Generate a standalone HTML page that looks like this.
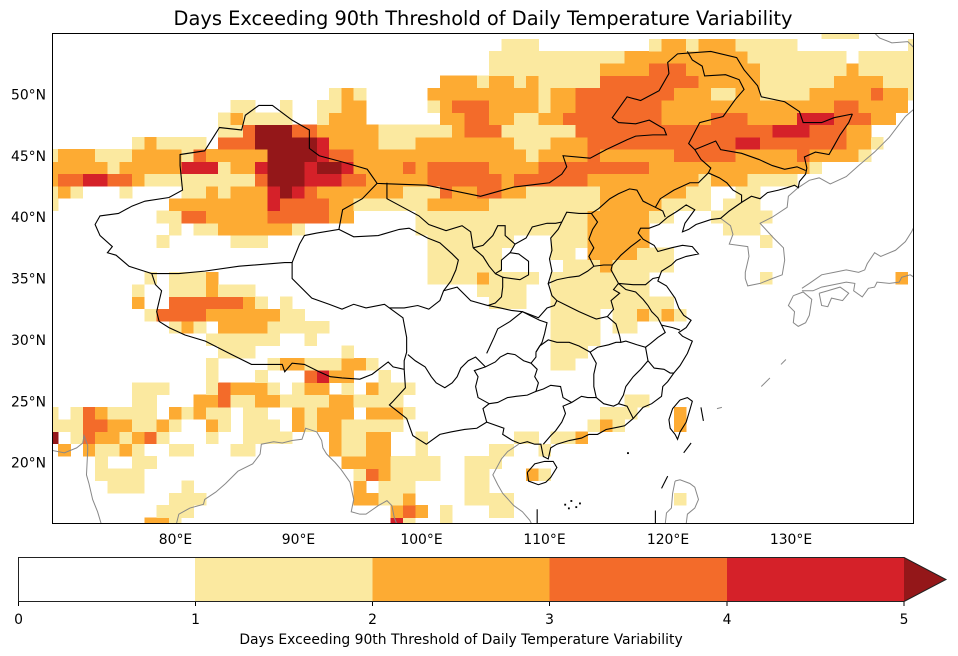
<!DOCTYPE html>
<html><head><meta charset="utf-8"><style>
html,body{margin:0;padding:0;background:#fff;}
svg{display:block;font-family:"DejaVu Sans","Liberation Sans",sans-serif;}
</style></head><body>
<svg id="s" width="958" height="656" viewBox="0 0 958 656" xmlns="http://www.w3.org/2000/svg">
<rect width="958" height="656" fill="#fff"/>
<text x="483" y="25" font-size="19.4" text-anchor="middle" fill="#000">Days Exceeding 90th Threshold of Daily Temperature Variability</text>
<defs><clipPath id="mc"><rect x="70" y="15" width="70" height="40"/></clipPath></defs>
<g transform="matrix(12.314 0 0 -12.275 -809.98 708.125)" clip-path="url(#mc)">
<g id="cells" shape-rendering="crispEdges"></g>
<g fill="none" stroke="#888" stroke-width="1" vector-effect="non-scaling-stroke">
<polyline vector-effect="non-scaling-stroke" points="69.5,22.4 70.0,22.4 69.9,21.9 70.0,21.0 71.0,20.8 72.0,21.2 72.5,21.6 72.6,22.2 72.9,21.4 72.9,21.0 72.8,19.0 73.0,18.3 73.3,17.0 73.7,16.0 74.0,15.0"/>
<polyline vector-effect="non-scaling-stroke" points="80.1,15.0 80.3,15.8 81.2,16.3 82.3,16.6 82.4,17.0 83.3,17.6 84.1,18.3 85.1,19.3 86.3,19.9 86.9,20.7 87.0,21.5 88.0,21.7 88.7,21.6 89.5,21.8 90.3,21.9 90.6,22.8 91.5,22.5 91.9,21.8 92.0,21.2 92.3,20.7 93.0,20.0 93.5,19.4 94.2,18.4 94.5,17.0 94.3,16.0 95.0,15.8 95.5,15.8 96.5,16.5 97.2,16.9 97.6,16.5 97.8,15.5 98.0,15.0"/>
<polyline vector-effect="non-scaling-stroke" points="107.9,21.5 107.0,20.9 106.5,20.3 105.8,19.0 106.2,18.2 106.6,17.5 107.5,16.5 108.2,16.0 108.8,15.3 109.0,14.9"/>
<polyline vector-effect="non-scaling-stroke" points="124.3,39.9 125.1,39.3 125.3,38.6 125.0,37.8 126.5,37.6 126.6,36.8 126.3,35.5 126.3,35.0 126.5,34.4 127.5,34.6 128.5,35.0 129.3,35.3 129.5,36.5 129.4,37.5 128.6,38.3 127.5,39.5 128.5,40.0 129.7,40.8 129.8,41.7 130.6,42.4"/>
<polyline vector-effect="non-scaling-stroke" points="130.6,42.4 131.5,43.0 132.3,43.2 133.2,42.7 134.5,43.3 135.5,44.2 136.8,45.3 138.0,46.5 138.6,47.3 139.3,48.2 140.0,48.8"/>
<polyline vector-effect="non-scaling-stroke" points="136.8,55.0 137.2,54.6 138.2,54.2 139.5,54.3 140.0,53.8"/>
<polyline vector-effect="non-scaling-stroke" points="130.2,33.6 131.0,33.9 131.7,33.3 131.5,32.0 131.2,31.4 130.6,31.1 130.2,31.4 130.3,32.3 129.8,32.8 130.2,33.6"/>
<polyline vector-effect="non-scaling-stroke" points="130.9,34.0 131.8,34.0 132.5,34.3 133.5,34.5 134.5,34.7 135.2,34.6 135.1,34.0 135.8,33.5 136.3,34.2 136.8,34.3 137.0,34.7 138.0,34.6 138.8,34.7 139.0,35.1 139.7,35.3 140.0,35.1"/>
<polyline vector-effect="non-scaling-stroke" points="130.9,34.2 131.5,34.6 132.5,35.3 133.5,35.5 134.5,35.7 135.5,35.5 136.0,35.7 136.2,36.2 136.8,37.1 137.3,36.8 138.5,37.3 139.3,38.0 139.8,38.8 140.0,39.2"/>
<polyline vector-effect="non-scaling-stroke" points="132.3,33.8 132.5,32.8 133.0,32.7 133.3,33.4 134.2,33.2 134.7,33.8 134.0,34.3 133.0,34.0 132.3,33.8"/>
<polyline vector-effect="non-scaling-stroke" points="127.6,26.2 128.0,26.6 128.3,26.9"/>
<polyline vector-effect="non-scaling-stroke" points="129.2,28.0 129.6,28.4"/>
<polyline vector-effect="non-scaling-stroke" points="124.0,24.4 124.4,24.5"/>
<polyline vector-effect="non-scaling-stroke" points="120.6,18.5 121.0,18.6 121.8,18.3 122.2,18.0 122.5,17.0 122.2,16.3 121.6,15.8 121.5,15.0"/>
<polyline vector-effect="non-scaling-stroke" points="120.6,18.5 120.4,17.5 120.3,16.3 119.9,15.9 119.8,15.0"/>
</g>
<g fill="none" stroke="#000" stroke-width="1.1">
<polyline vector-effect="non-scaling-stroke" points="135.0,48.4 133.5,48.1 132.5,47.7 131.0,47.7 130.7,48.6 129.5,49.4 127.6,49.8 127.3,50.7 126.2,52.0 125.6,53.0 123.5,53.5 120.8,53.3 120.0,52.6 120.1,51.7 119.3,50.3 117.8,49.5 116.7,49.8 115.5,48.1 116.0,47.7 117.4,47.6 118.5,47.9 119.7,47.2 119.9,46.7 118.8,46.7 117.4,46.6 116.7,46.3 115.0,45.5 113.7,44.8 111.5,45.0 111.8,44.1 111.4,43.5 110.4,42.8 109.6,42.7 107.5,42.45 104.8,41.7 100.4,42.6 96.4,42.75 95.6,43.9 93.55,44.5 91.7,45.0 90.9,45.6 90.9,47.1 89.5,47.9 87.9,49.1 86.8,49.1 85.7,48.3 85.4,47.1 83.6,47.3 82.4,45.4 80.4,45.1 80.4,44.2 80.6,42.2 79.5,41.6 77.55,41.3 76.5,40.9 75.4,40.3 73.9,40.1 73.5,39.4 73.9,38.5 74.9,37.6 74.5,37.1 75.2,36.9 76.25,36.0 77.8,35.5 78.1,35.4 78.4,34.5 78.9,34.0 78.5,32.3 78.7,31.5 79.5,31.0 80.8,30.4 82.45,29.9 84.6,28.8 86.2,28.0 88.7,28.0 88.9,27.4 89.5,28.1 90.5,28.0 91.7,27.4 92.6,27.0 93.55,26.9 95.0,26.8 96.0,27.2 97.3,28.2 97.7,27.8 98.6,27.6 98.7,26.1 97.7,25.0 97.4,24.7 98.8,23.6 99.3,22.2 100.4,21.5 101.5,22.3 102.4,22.5 103.5,22.7 104.5,22.8 105.3,23.3 106.7,22.8 106.6,22.3 107.4,21.8 108.0,21.55 108.6,21.7 109.2,21.5 109.7,21.5 109.9,20.5 110.3,20.3 110.5,21.2 111.0,21.5 112.0,21.8 113.0,22.0 113.6,22.3 114.3,22.3 115.0,22.7 116.0,22.9 116.5,23.0 117.2,23.6 118.0,24.5 118.7,24.8 119.5,25.4 119.6,26.2 120.0,26.6 120.5,27.3 121.0,27.9 121.6,28.9 122.0,29.9 121.2,30.3 120.9,30.6 121.5,31.0 121.9,31.6 121.3,32.0 120.9,32.6 120.6,33.4 119.9,34.4 119.2,34.8 119.5,35.6 120.3,36.1 120.7,36.5 121.5,36.8 122.5,37.0 122.0,37.6 121.2,37.7 120.3,37.5 119.2,37.2 118.9,37.7 118.0,38.2 117.6,38.7 117.8,39.1 118.5,39.1 119.3,39.4 120.0,40.0 120.8,40.5 121.5,41.0 122.2,40.6 121.4,39.5 121.2,38.8 121.7,39.0 122.3,39.4 123.5,39.8 124.3,39.9 125.0,40.5 126.0,41.2 126.8,41.7 127.5,41.5 128.1,42.0 129.0,42.2 129.7,42.4 130.3,42.6 130.6,42.4 130.7,42.9 131.2,43.5 131.3,44.0 131.1,44.9 132.0,45.3 133.1,45.1 133.5,45.8 134.0,46.7 134.7,47.7 135.0,48.4"/>
<polyline vector-effect="non-scaling-stroke" points="121.0,25.1 121.6,25.3 122.0,25.0 121.8,24.3 121.5,23.3 121.0,22.5 120.8,21.9 120.6,22.3 120.2,22.8 120.1,23.5 120.4,24.4 121.0,25.1"/>
<polyline vector-effect="non-scaling-stroke" points="108.6,19.2 108.7,18.5 109.5,18.2 110.1,18.4 110.5,18.8 111.0,19.6 110.7,20.1 110.0,20.1 109.2,19.9 108.6,19.2"/>
<polyline vector-effect="non-scaling-stroke" points="78.1,35.4 80.3,35.4 82.4,35.6 85.2,36.0 88.9,36.3 89.5,36.3 90.1,37.8 90.5,38.5 91.5,38.7 93.3,39.0 93.6,40.6 95.2,41.5 96.4,42.75"/>
<polyline vector-effect="non-scaling-stroke" points="89.5,36.3 89.5,35.0 91.1,33.4 92.5,32.9 93.55,32.5 94.5,32.9 95.5,32.6 97.0,32.9 97.4,32.6 98.5,31.8 98.8,30.2 98.8,29.0 98.6,28.3 98.6,27.6"/>
<polyline vector-effect="non-scaling-stroke" points="93.3,39.0 94.5,38.4 96.5,38.5 98.2,39.0 99.0,39.1 100.5,38.3 101.5,37.9 102.5,37.0 103.0,36.5 102.8,35.7 102.4,34.8 101.8,34.0 101.5,33.2 100.6,32.5 99.7,32.8 98.6,32.6 97.4,32.6"/>
<polyline vector-effect="non-scaling-stroke" points="97.2,42.8 97.2,41.5 98.5,40.8 99.8,40.1 100.6,39.4 102.0,38.9 103.3,39.3 104.0,38.8 104.2,37.5"/>
<polyline vector-effect="non-scaling-stroke" points="104.2,37.5 105.0,37.7 105.8,38.5 106.2,39.3 106.8,39.3 106.8,38.5 107.6,37.8 107.2,37.1 106.5,36.5 106.5,35.7 106.0,35.4 105.5,36.0 105.0,36.8 104.2,37.5"/>
<polyline vector-effect="non-scaling-stroke" points="101.8,34.0 102.9,34.3 104.0,33.2 105.4,32.8 106.0,33.0 106.5,33.5 106.6,34.3 106.6,35.1 106.0,35.4"/>
<polyline vector-effect="non-scaling-stroke" points="106.6,35.1 108.0,34.9 108.7,35.3 108.7,36.4 107.9,37.0 107.2,37.1"/>
<polyline vector-effect="non-scaling-stroke" points="107.6,37.8 108.5,38.3 109.0,39.2 110.2,39.5 110.9,39.5 111.4,39.6 111.8,40.4 112.8,40.3 113.8,40.3 114.4,40.7 115.3,41.5 116.0,41.9 116.9,42.3 117.5,42.2 118.0,41.3 119.0,40.8 119.4,41.5 120.5,42.2 121.8,42.8 122.5,42.8 123.3,43.6 123.5,44.0 122.7,44.7 122.2,45.5 121.7,46.0 122.6,47.7 124.5,48.2 125.5,49.6 126.2,50.4 125.8,51.2 124.7,51.6 123.0,51.5 122.8,52.3 122.0,52.8 121.6,53.5"/>
<polyline vector-effect="non-scaling-stroke" points="122.2,45.5 123.9,46.2 124.3,45.5 126.0,45.2 127.4,44.7 128.5,44.2 129.5,43.9 130.5,44.1 131.2,43.8"/>
<polyline vector-effect="non-scaling-stroke" points="123.3,43.6 124.2,43.2 124.8,42.8 125.3,42.2 126.0,41.8 126.0,41.2"/>
<polyline vector-effect="non-scaling-stroke" points="119.8,40.0 119.6,40.5 119.0,40.8"/>
<polyline vector-effect="non-scaling-stroke" points="113.8,40.3 114.3,39.6 113.9,39.0 113.6,38.2 114.0,37.5 113.6,36.8 114.0,36.0"/>
<polyline vector-effect="non-scaling-stroke" points="111.4,39.6 111.1,39.0 110.5,38.3 110.6,37.3 110.4,36.6 110.6,35.6 110.3,34.6 111.0,34.9 112.0,35.1 112.8,35.2 113.5,35.6 114.0,36.0 114.8,36.1 115.5,36.1 115.4,35.7 116.0,34.6"/>
<polyline vector-effect="non-scaling-stroke" points="115.5,36.1 116.2,36.9 117.0,37.6 117.8,38.2"/>
<polyline vector-effect="non-scaling-stroke" points="116.0,34.6 115.6,34.1 116.1,33.8 115.4,33.2 115.6,32.5 115.1,31.9 114.2,31.7 113.7,31.9 112.8,32.3 111.8,32.8 111.0,33.2 110.6,33.6 110.3,34.6"/>
<polyline vector-effect="non-scaling-stroke" points="116.0,34.6 117.2,34.5 118.2,34.5 118.8,35.0 119.3,35.1"/>
<polyline vector-effect="non-scaling-stroke" points="116.0,34.6 116.6,34.1 117.4,33.9 118.0,33.3 118.4,32.8 118.7,32.3 119.2,31.8 119.5,31.2 120.4,31.0 121.0,30.8"/>
<polyline vector-effect="non-scaling-stroke" points="119.5,31.2 119.8,30.6 119.2,30.2 118.6,29.7 118.2,29.4 117.5,29.6 116.6,29.9 116.2,29.8 116.1,30.3 115.8,31.3 115.1,31.9"/>
<polyline vector-effect="non-scaling-stroke" points="118.2,29.4 118.4,28.3 118.9,27.7 119.7,27.6 120.2,27.3 120.5,27.3"/>
<polyline vector-effect="non-scaling-stroke" points="118.4,28.3 117.8,27.6 117.2,27.0 116.6,26.2 116.4,25.5 116.0,24.8 116.7,24.6 117.0,24.0 117.2,23.6"/>
<polyline vector-effect="non-scaling-stroke" points="116.0,24.8 115.6,24.6 114.8,24.8 114.2,25.3 113.5,25.3 113.0,25.4 112.2,24.9 111.5,24.6 111.7,24.0 111.4,23.3 110.9,22.6 110.5,22.2 109.9,21.5"/>
<polyline vector-effect="non-scaling-stroke" points="114.2,25.3 114.0,26.2 114.0,27.2 114.2,28.1 113.7,29.0 114.3,29.4 115.2,29.6 115.8,29.8 116.2,29.8"/>
<polyline vector-effect="non-scaling-stroke" points="113.7,29.0 112.8,29.5 112.0,29.8 111.0,29.8 110.3,30.0 109.6,29.5 109.3,29.0"/>
<polyline vector-effect="non-scaling-stroke" points="112.2,24.9 111.5,25.3 111.3,26.2 110.5,26.3 109.9,26.0 109.3,25.8 109.5,26.5 109.2,27.0 109.4,27.6 108.9,28.1 109.3,28.6 109.3,29.0"/>
<polyline vector-effect="non-scaling-stroke" points="109.3,25.8 108.6,25.5 107.7,25.4 107.0,25.3 106.2,24.9 105.5,24.8 105.0,24.4 105.3,23.3"/>
<polyline vector-effect="non-scaling-stroke" points="105.5,24.8 104.6,25.3 104.4,26.2 104.6,27.0 104.3,27.5 105.2,27.8"/>
<polyline vector-effect="non-scaling-stroke" points="98.9,28.8 99.5,28.3 100.3,27.8 100.8,27.0 101.2,26.5 101.9,26.1 102.5,26.5 102.9,27.0 103.2,27.7 103.8,28.3 104.4,28.6 105.2,27.8 106.0,28.2 106.4,28.6 107.0,28.9 107.6,28.8 108.3,28.3 108.9,28.1"/>
<polyline vector-effect="non-scaling-stroke" points="105.3,28.9 105.9,30.2 106.2,30.9 107.2,31.5 108.2,32.3 108.8,32.0 109.6,31.6 110.2,31.4 110.0,30.5 109.8,29.8 109.3,29.0"/>
<polyline vector-effect="non-scaling-stroke" points="105.4,32.8 106.4,32.6 107.3,32.4 108.2,32.3 109.5,31.8 110.2,32.6 110.8,32.8 111.0,33.2"/>
<polyline vector-effect="non-scaling-stroke" points="122.7,24.5 122.9,23.4"/>
<polyline vector-effect="non-scaling-stroke" points="121.3,20.8 121.9,21.6"/>
<polyline vector-effect="non-scaling-stroke" points="119.5,17.9 120.0,18.9"/>
<polyline vector-effect="non-scaling-stroke" points="119.0,14.9 119.0,16.1"/>
<polyline vector-effect="non-scaling-stroke" points="109.4,15.0 109.4,16.2"/>
</g>
<g fill="#000">
<rect x="111.6" y="16.5" width="0.15" height="0.15"/><rect x="112.1" y="16.8" width="0.15" height="0.15"/><rect x="112.5" y="16.3" width="0.15" height="0.15"/><rect x="111.9" y="16.2" width="0.15" height="0.15"/><rect x="116.7" y="20.7" width="0.15" height="0.15"/><rect x="112.8" y="16.6" width="0.15" height="0.15"/>
</g>
</g>
<rect x="52.5" y="33.5" width="861" height="490" fill="none" stroke="#000" stroke-width="1"/>
<g font-size="13.9" fill="#000" text-anchor="middle">
<text x="175.5" y="544">80°E</text><text x="298.5" y="544">90°E</text><text x="421.5" y="544">100°E</text><text x="544.5" y="544">110°E</text><text x="668" y="544">120°E</text><text x="791" y="544">130°E</text>
</g>
<g font-size="13.9" fill="#000" text-anchor="end">
<text x="46" y="99.4">50°N</text><text x="46" y="160.8">45°N</text><text x="46" y="222.1">40°N</text><text x="46" y="283.5">35°N</text><text x="46" y="344.9">30°N</text><text x="46" y="406.3">25°N</text><text x="46" y="467.6">20°N</text>
</g>
<g shape-rendering="crispEdges">
<rect x="18" y="557" width="177.2" height="45" fill="#ffffff"/>
<rect x="195.2" y="557" width="177.2" height="45" fill="#fbe9a0"/>
<rect x="372.4" y="557" width="177.2" height="45" fill="#fdab33"/>
<rect x="549.6" y="557" width="177.2" height="45" fill="#f36b2a"/>
<rect x="726.8" y="557" width="177.2" height="45" fill="#d52129"/>
</g>
<polygon points="904,557 946,579.5 904,602" fill="#941719"/>
<polygon points="18.5,557.5 904,557.5 946,579.5 904,601.5 18.5,601.5" fill="none" stroke="#222" stroke-width="1"/>
<g stroke="#000" stroke-width="1">
<line x1="18.5" y1="602" x2="18.5" y2="606"/><line x1="195.5" y1="602" x2="195.5" y2="606"/><line x1="372.5" y1="602" x2="372.5" y2="606"/><line x1="549.5" y1="602" x2="549.5" y2="606"/><line x1="727" y1="602" x2="727" y2="606"/><line x1="904" y1="602" x2="904" y2="606"/>
</g>
<g font-size="13.9" fill="#000" text-anchor="middle">
<text x="18.5" y="624">0</text><text x="195.5" y="624">1</text><text x="372.5" y="624">2</text><text x="549.5" y="624">3</text><text x="727" y="624">4</text><text x="904" y="624">5</text>
<text x="461" y="644">Days Exceeding 90th Threshold of Daily Temperature Variability</text>
</g>
</svg>
<script>
(function(){
var C={1:'#fbe9a0',2:'#fdab33',3:'#f36b2a',4:'#d52129',5:'#941719'};
var D={
55:[[133,135,1]],
54:[[107,109,1],[119,119,1],[120,121,2],[122,122,1],[123,125,2],[126,130,1],[140,140,1]],
53:[[106,116,1],[117,126,2],[127,134,1],[136,140,1]],
52:[[106,114,1],[115,118,2],[119,121,3],[122,127,2],[128,134,1],[135,135,2],[136,140,1]],
51:[[102,104,2],[105,105,1],[106,107,2],[108,108,1],[109,109,2],[110,114,1],[115,122,3],[123,127,2],[128,133,1],[134,137,2],[138,140,1]],
50:[[93,93,1],[94,94,2],[95,95,1],[101,109,2],[110,110,1],[111,112,2],[113,120,3],[121,123,2],[124,125,1],[126,127,2],[128,131,1],[132,136,2],[137,137,3],[138,139,2],[140,140,1]],
49:[[85,86,1],[89,89,1],[92,93,1],[94,95,2],[101,101,1],[102,102,2],[103,105,3],[106,109,2],[110,110,1],[111,112,2],[113,119,3],[120,133,2],[134,135,3],[136,139,2]],
48:[[84,84,1],[85,85,2],[86,89,1],[92,92,1],[93,95,2],[102,103,2],[104,105,3],[106,107,2],[108,109,1],[110,111,2],[112,119,3],[120,123,2],[124,126,3],[127,130,2],[131,133,4],[134,136,3],[137,138,2]],
47:[[84,85,1],[86,86,3],[87,89,5],[90,91,3],[92,96,2],[97,102,1],[103,103,2],[104,106,3],[107,112,1],[113,128,3],[129,131,4],[132,134,3],[135,136,2]],
46:[[77,77,1],[78,78,2],[79,82,1],[84,86,3],[87,91,5],[92,92,4],[93,96,2],[97,99,1],[100,107,2],[108,110,1],[111,113,2],[114,125,3],[126,127,4],[128,134,3],[135,136,2],[137,137,1]],
45:[[70,70,1],[71,73,2],[74,76,1],[77,80,2],[81,81,1],[82,82,3],[83,87,2],[88,91,5],[92,92,4],[93,94,3],[95,108,2],[109,109,1],[110,113,2],[114,114,3],[115,120,2],[121,125,3],[126,130,2],[131,131,3],[132,135,2],[136,136,1]],
44:[[70,74,2],[75,75,1],[76,80,2],[81,83,4],[84,84,1],[85,86,2],[87,87,4],[88,90,5],[91,91,4],[92,93,5],[94,94,4],[95,98,2],[99,99,3],[100,100,2],[101,105,3],[106,109,2],[110,118,3],[119,131,2],[132,132,1]],
43:[[70,70,2],[71,72,3],[73,74,4],[75,76,3],[77,77,2],[78,86,1],[87,87,3],[88,90,5],[91,93,4],[94,95,3],[96,100,2],[101,106,3],[107,107,2],[108,113,3],[114,122,2],[123,123,1],[124,126,2],[127,130,1]],
42:[[70,70,1],[71,71,2],[72,72,1],[76,76,1],[81,82,1],[83,83,2],[84,84,1],[85,87,2],[88,88,4],[89,89,5],[90,90,4],[91,91,3],[92,98,2],[99,101,1],[102,102,3],[103,104,2],[105,106,3],[107,108,2],[109,114,1],[115,121,2],[122,123,1],[126,127,1]],
41:[[70,70,1],[80,87,2],[88,88,4],[89,92,3],[93,94,2],[95,100,1],[101,105,2],[106,114,1],[115,119,2],[120,123,1],[125,127,1]],
40:[[79,80,1],[81,82,3],[83,87,2],[88,92,3],[93,94,2],[100,113,1],[114,118,2],[119,120,1],[124,128,1]],
39:[[80,80,1],[82,83,1],[84,89,2],[90,90,1],[100,113,1],[114,118,2],[125,127,1]],
38:[[79,79,1],[85,87,1],[101,107,1],[111,113,1],[114,118,2],[128,128,1]],
37:[[101,106,1],[111,112,1],[114,117,2],[118,120,1]],
36:[[101,106,1],[112,114,1],[115,115,2],[116,120,1]],
35:[[78,78,1],[80,82,1],[83,83,2],[101,104,1],[105,105,2],[106,109,1],[111,118,1],[128,128,1],[139,139,2]],
34:[[77,77,1],[80,82,1],[83,83,2],[84,86,1],[105,108,1],[111,118,1]],
33:[[77,77,2],[80,85,3],[86,86,2],[87,87,1],[89,89,1],[106,108,1],[111,120,1]],
32:[[78,78,1],[79,82,3],[83,88,2],[89,90,1],[111,114,1],[116,117,1],[118,118,2],[119,119,1],[120,120,2],[121,121,1]],
31:[[80,80,1],[81,81,2],[82,82,1],[84,87,2],[88,92,1],[111,114,1],[116,117,1]],
30:[[83,88,1],[91,91,1],[111,114,1]],
29:[[84,86,1],[94,94,1],[111,113,1]],
28:[[83,83,1],[88,88,1],[89,90,2],[91,93,1],[94,95,2],[96,96,1],[111,112,1]],
27:[[83,83,1],[87,87,1],[91,91,3],[92,92,4],[93,94,2],[97,97,1]],
26:[[77,79,1],[83,83,1],[84,84,3],[85,87,2],[88,88,1],[90,90,1],[91,92,2],[94,94,1],[96,96,2],[97,99,1]],
25:[[77,78,1],[82,83,2],[84,84,3],[85,86,1],[87,88,2],[89,92,1],[93,94,2],[95,98,1],[117,118,1]],
24:[[70,70,1],[72,72,1],[73,73,3],[74,74,2],[75,78,1],[80,80,2],[81,81,1],[82,82,2],[83,84,1],[86,87,1],[90,90,2],[91,91,1],[92,94,2],[96,98,2],[99,99,1],[115,117,1],[121,121,2]],
23:[[70,72,1],[73,74,3],[75,76,2],[77,78,1],[79,79,2],[80,80,1],[83,83,2],[84,84,1],[86,88,1],[90,90,2],[91,91,1],[92,93,2],[94,98,1],[114,114,1],[115,115,2],[116,116,1],[121,121,2]],
22:[[70,70,5],[72,72,1],[73,73,3],[74,75,2],[76,76,1],[77,77,2],[78,78,3],[79,79,1],[83,83,1],[86,89,1],[93,93,2],[94,95,1],[96,97,2],[100,100,1],[108,109,1],[111,112,1],[113,113,2]],
21:[[71,71,2],[73,73,2],[74,75,1],[76,76,2],[77,77,1],[80,81,1],[85,86,1],[93,93,2],[94,95,1],[96,97,2],[100,100,1],[106,107,1],[110,110,1]],
20:[[74,74,1],[77,78,1],[94,97,2],[98,101,1],[104,106,1]],
19:[[74,77,1],[95,95,1],[96,96,3],[97,97,2],[98,101,1],[104,105,1],[109,109,2],[110,110,1]],
18:[[75,77,1],[81,81,1],[95,95,2],[97,99,1],[104,105,1]],
17:[[80,82,1],[95,96,2],[97,98,1],[99,99,2],[104,107,1],[121,121,1]],
16:[[79,81,1],[98,98,2],[99,99,3],[100,100,2],[102,102,1],[106,107,1]],
15:[[78,79,2],[80,80,1],[98,98,4],[99,99,1],[102,102,1]]
};
var g=document.getElementById('cells'),ns='http://www.w3.org/2000/svg';
for(var k in D){var lat=+k;D[k].forEach(function(r){
var e=document.createElementNS(ns,'rect');
e.setAttribute('x',r[0]-0.5);e.setAttribute('y',lat-0.5);
e.setAttribute('width',r[1]-r[0]+1.03);e.setAttribute('height',1.03);
e.setAttribute('fill',C[r[2]]);g.appendChild(e);});}
})();
</script>
</body></html>
